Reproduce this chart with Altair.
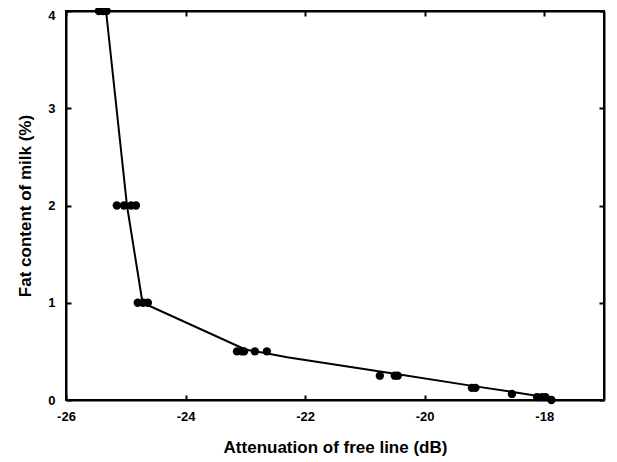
import altair as alt
import pandas as pd

# measured points (attenuation dB, fat %)
att = [-25.45, -25.38, -25.32,
       -25.15, -25.03, -24.91, -24.83,
       -24.80, -24.71, -24.63,
       -23.14, -23.06, -23.02, -22.84, -22.64,
       -20.75, -20.50, -20.45,
       -19.21, -19.15,
       -18.54,
       -18.12, -18.04, -17.98,
       -17.88]
fat = [4, 4, 4,
       2, 2, 2, 2,
       1, 1, 1,
       0.5, 0.5, 0.5, 0.5, 0.5,
       0.25, 0.25, 0.25,
       0.125, 0.125,
       0.0625,
       0.03, 0.03, 0.03,
       0.0]

# fitted line vertices
line_att = [-25.33, -24.98, -24.72, -23.0, -22.3, -20.5, -19.15, -18.5, -18.0, -17.88]
line_fat = [4, 2, 1, 0.52, 0.44, 0.27, 0.14, 0.08, 0.03, 0.0]

x_ticks = [-26, -24, -22, -20, -18]
y_ticks = [0, 1, 2, 3, 4]

pts = pd.DataFrame({"att": att, "fat": fat})
ln = pd.DataFrame({"att": line_att, "fat": line_fat})

FONT = "Liberation Sans"
xscale = alt.Scale(domain=[-26, -17], nice=False, zero=False)
yscale = alt.Scale(domain=[0, 4], nice=False, zero=False)
inward = alt.ExprRef(expr="-5")

points = alt.Chart(pts).mark_point(
    filled=True, color="black", size=70, opacity=1, clip=False
).encode(
    x=alt.X("att:Q", scale=xscale,
            axis=alt.Axis(orient="bottom", values=x_ticks,
                          title="Attenuation of free line (dB)",
                          labelExpr="toString(datum.value)",
                          tickSize=inward, labelPadding=15, titlePadding=16)),
    y=alt.Y("fat:Q", scale=yscale,
            axis=alt.Axis(orient="left", values=y_ticks,
                          title="Fat content of milk (%)",
                          labelOffset={"condition": {"test": "datum.value == 4", "value": 4}, "value": 0},
                          tickSize=inward, labelPadding=16, titlePadding=13)),
)

line = alt.Chart(ln).mark_line(color="black", strokeWidth=2).encode(
    x=alt.X("att:Q", scale=xscale,
            axis=alt.Axis(orient="top", values=x_ticks,
                          labels=False, title=None, tickSize=inward)),
    y=alt.Y("fat:Q", scale=yscale,
            axis=alt.Axis(orient="right", values=y_ticks,
                          labels=False, title=None, tickSize=inward)),
)

chart = alt.layer(line, points).resolve_axis(
    x="independent", y="independent"
).properties(
    width=538, height=389,
    autosize=alt.AutoSizeParams(type="none"),
    padding={"left": 58, "top": 3, "right": 5, "bottom": 62},
).configure_view(
    stroke="black", strokeWidth=2
).configure_axis(
    grid=False,
    labelFlush=False,
    domainColor="black", domainWidth=2,
    tickColor="black", tickWidth=2,
    labelFont=FONT, labelFontSize=13, labelFontWeight="bold", labelColor="black",
    titleFont=FONT, titleFontSize=17, titleFontWeight="bold", titleColor="black",
)

chart.save("out.html", embed_options={"renderer": "svg", "actions": False})
